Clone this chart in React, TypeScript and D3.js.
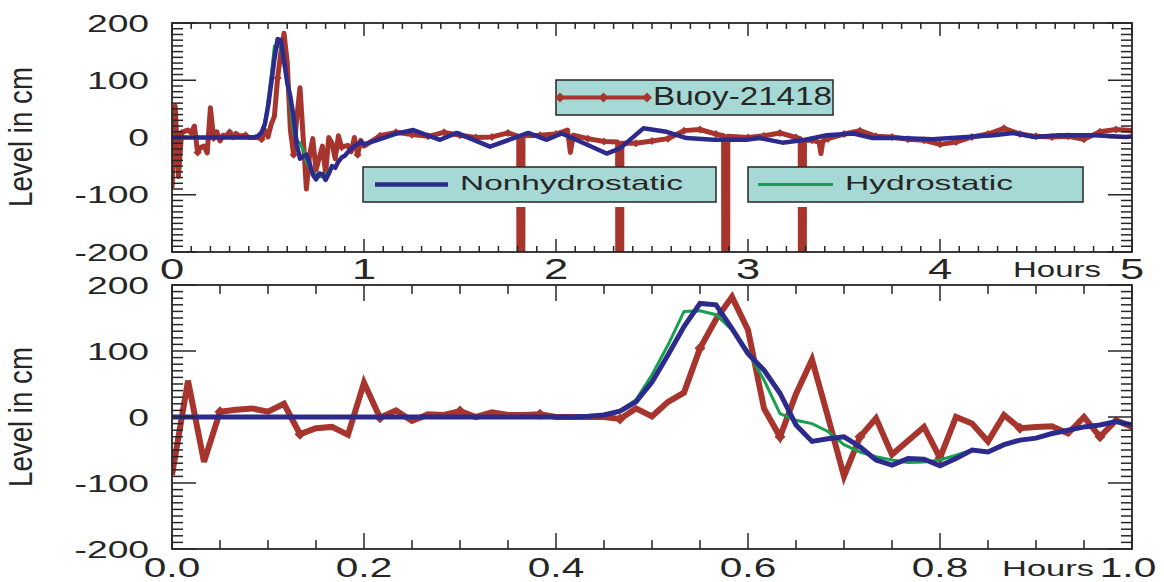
import * as d3 from "d3";

// Buoy / model water level, one value per minute over the first hour (cm)
const minuteBuoy = [
  -88, 55, -68, 8, 11, 13, 8, 20, -26, -17, -15, -27, 52, -1, 10, -6, 4, 3, 9, 0,
  7, 3, 3, 4, 0, 0, 0, 0, -3, 13, 1, 23, 37, 104, 148, 182, 132, 13, -30, 35,
  87, 0, -90, -30, -2, -57, -36, -15, -62, 0, -10, -37, 3, -17, -15, -14, -25, 0, -30, -5,
  -15,
];
const minuteNonhydro = [
  0, 0, 0, 0, 0, 0, 0, 0, 0, 0, 0, 0, 0, 0, 0, 0, 0, 0, 0, 0,
  0, 0, 0, 0, 0, 0, 1, 3, 9, 23, 53, 94, 137, 172, 170, 134, 96, 71, 36, -12,
  -37, -33, -30, -45, -65, -73, -63, -64, -74, -63, -50, -53, -42, -35, -32, -25, -20, -15, -12, -7,
  -12,
];
const minuteHydro = [
  0, 0, 0, 0, 0, 0, 0, 0, 0, 0, 0, 0, 0, 0, 0, 0, 0, 0, 0, 0,
  0, 0, 0, 0, 0, 0, 1, 3, 10, 26, 64, 109, 160, 161, 155, 132, 99, 56, 5, -5,
  -10, -22, -42, -53, -60, -65, -69, -68, -65, -58, -50, -52, -42, -35, -32, -25, -20, -15, -12, -7,
  -12,
];

// After the first hour: [hours, cm]; -400 marks the buoy gaps (off scale)
const laterBuoy: [number, number][] = [
  [1.0833, 3], [1.1667, 9], [1.25, 5], [1.3333, 2], [1.4167, 9], [1.5, 4], [1.5833, 0],
  [1.6667, 1], [1.75, 8], [1.806, 2], [1.807, -400], [1.827, -400], [1.828, 3],
  [1.9167, 4], [2.0, 6], [2.06, 13], [2.075, -26], [2.09, 4], [2.1667, -2], [2.25, -7],
  [2.321, -8], [2.322, -400], [2.342, -400], [2.343, -10],
  [2.4167, -10], [2.5, -6], [2.5833, -2], [2.6667, 12], [2.75, 14], [2.8333, 6],
  [2.873, 3], [2.874, -400], [2.894, -400], [2.895, 2],
  [3.0, 0], [3.0833, 3], [3.1667, 8], [3.25, 0],
  [3.272, -2], [3.273, -400], [3.293, -400], [3.294, -5],
  [3.3333, -5], [3.37, -8], [3.38, -28], [3.39, -6], [3.4167, -2], [3.5, 6], [3.5833, 12],
  [3.6667, 2], [3.75, 1], [3.8333, -3], [3.9167, -5], [4.0, -12], [4.0833, -8], [4.1667, 1],
  [4.25, 6], [4.3333, 16], [4.4167, 6], [4.5, 2], [4.5833, 1], [4.6667, 2], [4.75, -3],
  [4.8333, 10], [4.9167, 14], [5.0, 12],
];
const laterNonhydro: [number, number][] = [
  [1.0833, -3], [1.16, 6], [1.257, 13], [1.396, -4], [1.483, 8], [1.656, -16], [1.856, 8],
  [1.952, -4], [2.03, 7], [2.125, -7], [2.264, -28], [2.333, -19], [2.455, 16], [2.576, 10],
  [2.68, -1], [2.82, -4], [2.99, -4], [3.06, -1], [3.18, -9], [3.3, -4], [3.41, 4], [3.55, 7],
  [3.65, -1], [3.79, -1], [3.96, -3], [4.14, 1], [4.28, 4], [4.38, 8], [4.49, 1], [4.62, 4],
  [4.8, 4], [4.97, 1], [5.0, 2],
];

const yTicks = [200, 100, 0, -100, -200];
const yTickLabels = ["200", "100", "0", "-100", "-200"];
const topXTicks = [0, 1, 2, 3, 4, 5];
const topXLabels = ["0", "1", "2", "3", "4", "5"];
const bottomXTicks = [0, 0.2, 0.4, 0.6, 0.8, 1.0];
const bottomXLabels = ["0.0", "0.2", "0.4", "0.6", "0.8", "1.0"];

const FONT = "'Liberation Sans', Arial, Helvetica, sans-serif";
const RED = "#a7352d";
const BLUE = "#2c2a8c";
const GREEN = "#17a04f";
const BOX = "#a6d9d5";
const INK = "#262626";

type Pt = [number, number];
const byMinute = (vals: number[]): Pt[] => vals.map((v, k) => [k / 60, v]);

function Diamond({ x, y, r }: { x: number; y: number; r: number }) {
  return <path d={`M${x},${y - r}L${x + r},${y}L${x},${y + r}L${x - r},${y}Z`} fill={RED} />;
}

function Frame({ x, y, minorX, majorX, xLen, yLen }: any) {
  const [x0, x1] = x.range();
  const [yb, yt] = y.range();
  const minorY = d3.range(-200, 201, 10);
  const lines: JSX.Element[] = [];
  minorX.forEach((t: number, i: number) => {
    const major = majorX.some((m: number) => Math.abs(m - t) < 1e-6);
    const L = major ? xLen[1] : xLen[0];
    lines.push(<line key={"b" + i} x1={x(t)} x2={x(t)} y1={yb} y2={yb - L} />);
    lines.push(<line key={"t" + i} x1={x(t)} x2={x(t)} y1={yt} y2={yt + L} />);
  });
  minorY.forEach((v, i) => {
    const L = v % 100 === 0 ? yLen[1] : yLen[0];
    lines.push(<line key={"l" + i} x1={x0} x2={x0 + L} y1={y(v)} y2={y(v)} />);
    lines.push(<line key={"r" + i} x1={x1} x2={x1 - L} y1={y(v)} y2={y(v)} />);
  });
  return (
    <g stroke={INK} strokeWidth={1.5} fill="none">
      {lines}
      <rect x={x0} y={yt} width={x1 - x0} height={yb - yt} strokeWidth={1.8} />
    </g>
  );
}

function YLabels({ y, cy }: any) {
  return (
    <g fontFamily={FONT} fill={INK}>
      {yTicks.map((v, i) => (
        <text key={v} transform={`translate(149,${y(v) + 8.6}) scale(1.55,1)`} textAnchor="end" fontSize={24}>
          {yTickLabels[i]}
        </text>
      ))}
      <text transform={`translate(32,${cy}) rotate(-90)`} textAnchor="middle" fontSize={33}
        textLength={140} lengthAdjust="spacingAndGlyphs">Level in cm</text>
    </g>
  );
}

export default function App() {
  const left = 172, right = 1132;
  const xTop = d3.scaleLinear().domain([0, 5]).range([left, right]);
  const yTop = d3.scaleLinear().domain([-200, 200]).range([252, 23]);
  const xBot = d3.scaleLinear().domain([0, 1]).range([left, right]);
  const yBot = d3.scaleLinear().domain([-200, 200]).range([549, 285]);

  const topBuoy = byMinute(minuteBuoy).concat(laterBuoy);
  const topNon = byMinute(minuteNonhydro).concat(laterNonhydro);
  const hydro = byMinute(minuteHydro);
  const botBuoy = byMinute(minuteBuoy);
  const botNon = byMinute(minuteNonhydro);

  const lt = d3.line<Pt>().x((d) => xTop(d[0])).y((d) => yTop(d[1]));
  const lb = d3.line<Pt>().x((d) => xBot(d[0])).y((d) => yBot(d[1]));

  // buoy markers every 5 minutes
  const fiveMin = (t: number) => Math.abs(t * 12 - Math.round(t * 12)) < 0.002;
  const topMarks = topBuoy.filter((d) => (d[0] <= 1 ? Math.round(d[0] * 60) % 5 === 3 : fiveMin(d[0])));
  const botMarks = botBuoy.filter((d) => Math.round(d[0] * 60) % 5 === 3);

  const legends = [
    { x: 556, y: 80, w: 277, h: 35, label: "Buoy-21418", color: RED, lx: [560, 647], tx: 653, ty: 105, fs: 25, tl: 179, sw: 4, marks: true },
    { x: 363, y: 167, w: 353, h: 35, label: "Nonhydrostatic", color: BLUE, lx: [375, 448], tx: 460, ty: 190, fs: 21, tl: 223, sw: 4.5, marks: false },
    { x: 748, y: 167, w: 335, h: 35, label: "Hydrostatic", color: GREEN, lx: [758, 833], tx: 845, ty: 190, fs: 21, tl: 168, sw: 3, marks: false },
  ];

  return (
    <svg width={1164} height={582} style={{ position: "absolute", left: 0, top: 0, background: "#fff" }}>
      <defs>
        <clipPath id="clipTop"><rect x={left} y={23} width={right - left} height={229} /></clipPath>
        <clipPath id="clipBot"><rect x={left} y={285} width={right - left} height={264} /></clipPath>
      </defs>

      {/* top panel: 0-5 hours */}
      <g clipPath="url(#clipTop)" fill="none" strokeLinejoin="round">
        <path d={lt(topBuoy)!} stroke={RED} strokeWidth={5} />
        {topMarks.map((d, i) => <Diamond key={i} x={xTop(d[0])} y={yTop(d[1])} r={4} />)}
        <path d={lt(hydro)!} stroke={GREEN} strokeWidth={3} />
        <path d={lt(topNon)!} stroke={BLUE} strokeWidth={4.5} />
      </g>
      <Frame x={xTop} y={yTop} minorX={d3.range(0, 5.0001, 0.1)} majorX={topXTicks} xLen={[6, 13]} yLen={[11, 24]} />
      <YLabels y={yTop} cy={137} />
      <g fontFamily={FONT} fill={INK}>
        {topXTicks.map((t, i) => (
          <text key={t} transform={`translate(${xTop(t)},279) scale(1.5,1)`} textAnchor="middle" fontSize={29}>
            {topXLabels[i]}
          </text>
        ))}
        <text transform="translate(1101,277) scale(1.5,1)" textAnchor="end" fontSize={22}>Hours</text>
      </g>

      {legends.map((g) => (
        <g key={g.label}>
          <rect x={g.x} y={g.y} width={g.w} height={g.h + 5} fill="#fff" />
          <rect x={g.x} y={g.y} width={g.w} height={g.h} fill={BOX} stroke={INK} strokeWidth={1.5} />
          <line x1={g.lx[0]} x2={g.lx[1]} y1={g.y + g.h / 2} y2={g.y + g.h / 2} stroke={g.color} strokeWidth={g.sw} />
          {g.marks && [0, 0.5, 1].map((f) => (
            <Diamond key={f} x={g.lx[0] + f * (g.lx[1] - g.lx[0])} y={g.y + g.h / 2} r={5} />
          ))}
          <text x={g.tx} y={g.ty} fontFamily={FONT} fontSize={g.fs} fill={INK} textLength={g.tl} lengthAdjust="spacingAndGlyphs">
            {g.label}
          </text>
        </g>
      ))}

      {/* bottom panel: first hour */}
      <g clipPath="url(#clipBot)" fill="none" strokeLinejoin="miter">
        <path d={lb(botBuoy)!} stroke={RED} strokeWidth={6} />
        {botMarks.map((d, i) => <Diamond key={i} x={xBot(d[0])} y={yBot(d[1])} r={5.5} />)}
        <path d={lb(hydro)!} stroke={GREEN} strokeWidth={3} />
        <path d={lb(botNon)!} stroke={BLUE} strokeWidth={5} />
      </g>
      <Frame x={xBot} y={yBot} minorX={d3.range(0, 1.0001, 0.05)} majorX={bottomXTicks} xLen={[9, 16]} yLen={[11, 24]} />
      <YLabels y={yBot} cy={417} />
      <g fontFamily={FONT} fill={INK}>
        {bottomXTicks.map((t, i) => (
          <text key={t} transform={`translate(${t === 1 ? xBot(t) - 4 : xBot(t)},577) scale(1.45,1)`} textAnchor="middle" fontSize={28}>
            {bottomXLabels[i]}
          </text>
        ))}
        <text transform="translate(1094,576) scale(1.5,1)" textAnchor="end" fontSize={23}>Hours</text>
      </g>
    </svg>
  );
}
